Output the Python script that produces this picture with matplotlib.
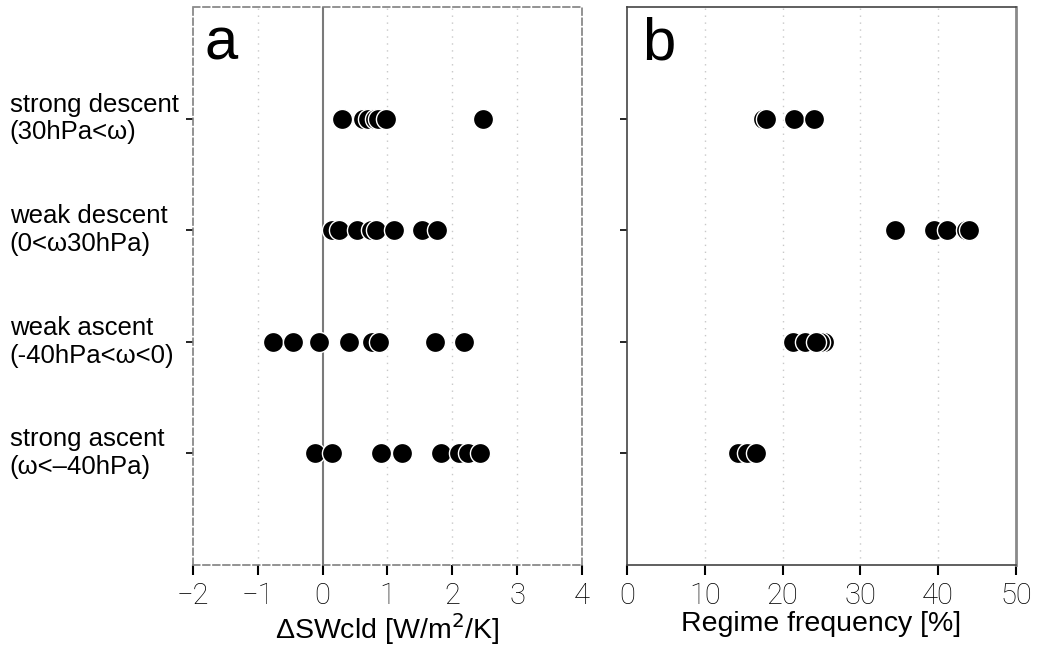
import numpy as np
import matplotlib.pyplot as plt

# regimes, top row first; y position 4..1
regimes = [
    "strong descent\n(30hPa<\u03c9)",
    "weak descent\n(0<\u03c930hPa)",
    "weak ascent\n(-40hPa<\u03c9<0)",
    "strong ascent\n(\u03c9<\u201340hPa)",
]
row_y = [4, 3, 2, 1]

# cloud shortwave feedback per model [W/m2/K]
dsw_strong_desc = [0.30, 0.62, 0.70, 0.80, 0.85, 0.97, 2.48]
dsw_weak_desc = [0.15, 0.25, 0.53, 0.74, 0.82, 1.10, 1.53, 1.77]
dsw_weak_asc = [-0.77, -0.46, -0.06, 0.40, 0.76, 0.87, 1.73, 2.18]
dsw_strong_asc = [-0.12, 0.14, 0.90, 1.23, 1.82, 2.11, 2.24, 2.43]

# regime frequency per model [%]
freq_strong_desc = [17.5, 17.9, 21.5, 24.1]
freq_weak_desc = [34.4, 39.5, 41.1, 43.6, 43.9]
freq_weak_asc = [21.4, 22.9, 25.3, 24.8, 24.3]
freq_strong_asc = [14.3, 15.4, 16.6]

dsw_rows = [dsw_strong_desc, dsw_weak_desc, dsw_weak_asc, dsw_strong_asc]
freq_rows = [freq_strong_desc, freq_weak_desc, freq_weak_asc, freq_strong_asc]

dsw_ticks = [-2, -1, 0, 1, 2, 3, 4]
freq_ticks = [0, 10, 20, 30, 40, 50]

plt.rcParams["font.family"] = ["Liberation Sans", "DejaVu Sans"]

fig = plt.figure(figsize=(10.38, 6.5), dpi=100)
ax1 = fig.add_axes([0.1859, 0.1308, 0.3748, 0.8585])
ax2 = fig.add_axes([0.6040, 0.1308, 0.3748, 0.8585])

tick_font = dict(family=["Roboto", "DejaVu Sans"], weight="light", size=21, color="black")


def dots(ax, rows):
    for y, vals in zip(row_y, rows):
        ax.plot(vals, [y] * len(vals), "o", ms=14.5, mfc="black",
                mec="white", mew=1.0, ls="none", zorder=5)


# panel a
dots(ax1, dsw_rows)
ax1.set_xlim(-2, 4)
ax1.set_ylim(0, 5)
for t in dsw_ticks[1:-1]:
    if t == 0:
        ax1.axvline(0, color="#7a7a7a", lw=1.5, zorder=2)
    else:
        ax1.axvline(t, color="#c8c8c8", lw=1.0, ls=(0, (1, 4)), zorder=1)
ax1.set_xticks(dsw_ticks)
ax1.set_xticklabels([str(t).replace("-", "\u2212") for t in dsw_ticks], fontdict=tick_font)
ax1.set_yticks(row_y)
ax1.set_yticklabels(regimes, fontsize=18.5, ha="left", va="center")
ax1.tick_params(axis="y", length=5, width=1.2, pad=127)
ax1.tick_params(axis="x", length=7, width=1.5, pad=5)
for s in ax1.spines.values():
    s.set_color("#808080")
    s.set_linestyle((0, (4, 2)))
    s.set_linewidth(1.2)
ax1.set_xlabel("\u0394SWcld [W/m$^2$/K]", fontsize=20.5, labelpad=1)
ax1.text(0.03, 0.905, "a", transform=ax1.transAxes, fontsize=43, va="baseline")

# panel b
dots(ax2, freq_rows)
ax2.set_xlim(0, 50)
ax2.set_ylim(0, 5)
for t in freq_ticks[1:-1]:
    ax2.axvline(t, color="#c8c8c8", lw=1.0, ls=(0, (1, 4)), zorder=1)
ax2.set_xticks(freq_ticks)
ax2.set_xticklabels([str(t) for t in freq_ticks], fontdict=tick_font)
ax2.set_yticks(row_y)
ax2.set_yticklabels([])
ax2.tick_params(axis="y", length=5, width=1.2)
ax2.tick_params(axis="x", length=7, width=1.5, pad=5)
for name, s in ax2.spines.items():
    s.set_color("#444444")
    s.set_linewidth(1.2)
ax2.spines["right"].set_color("#8a8a8a")
ax2.spines["right"].set_linewidth(2.0)
ax2.set_xlabel("Regime frequency [%]", fontsize=20.5, labelpad=1)
ax2.text(0.04, 0.905, "b", transform=ax2.transAxes, fontsize=43, va="baseline")

fig.savefig("out.png", dpi=100)
